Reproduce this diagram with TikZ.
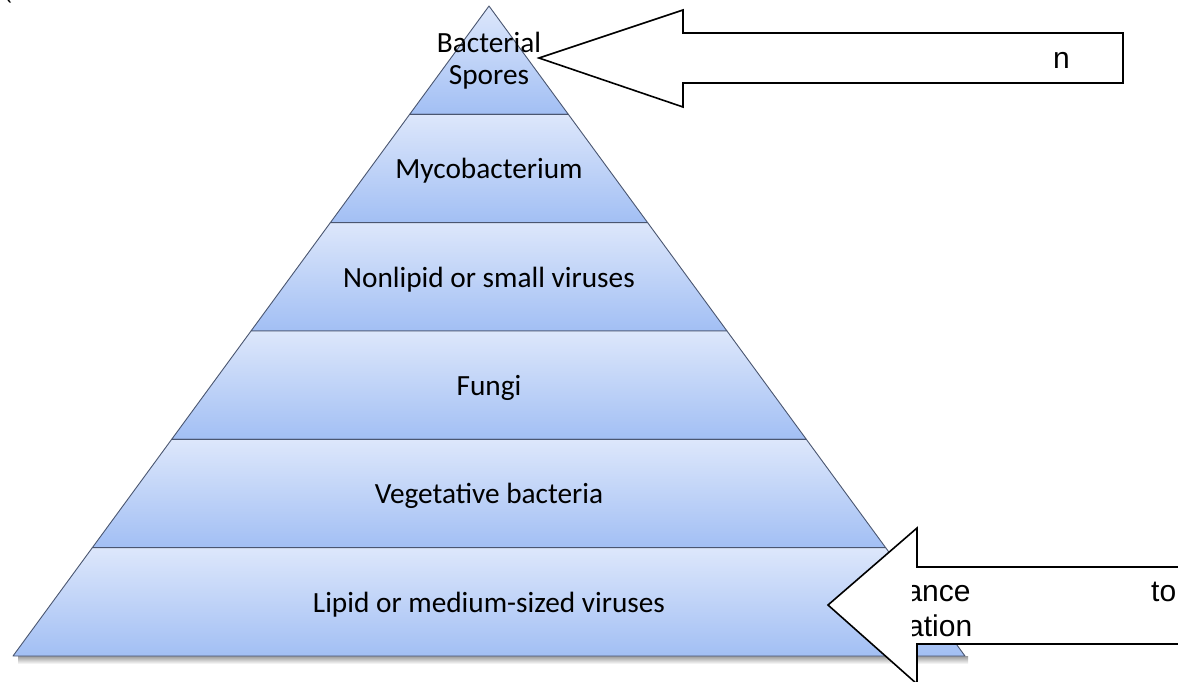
\documentclass[tikz,border=0pt]{standalone}
\usepackage{fontspec}
\setmainfont{Carlito}
\newfontfamily\arialf{Liberation Sans}
\definecolor{ltop}{HTML}{DDE7FB}
\definecolor{lbot}{HTML}{A2BFF4}
\definecolor{edgec}{HTML}{4A5670}
\begin{document}
\begin{tikzpicture}[x=1pt,y=-1pt,
  layer/.style={draw=edgec, line width=0.9pt, top color=ltop, bottom color=lbot, line join=round},
  lbl/.style={font=\fontsize{29.3}{34}\selectfont, text=black, inner sep=0pt, anchor=base},
  bigarrow/.style={draw=black, line width=1.6pt, fill=white, line join=miter},
  atext/.style={font=\arialf\fontsize{30}{35}\selectfont, text=black, inner sep=0pt}]
\useasboundingbox (0,0) rectangle (1178,681);
% fragment of text at top-left corner
\node[atext, anchor=base west, font=\arialf\fontsize{22}{26}\selectfont] (paren) at (4,-2) {(};
% shadow under base
\shade[top color=black!40, bottom color=white] (18,656) rectangle (968,664);
% pyramid layers
\path[layer] (489,6) -- (568.33,114.33) -- (409.67,114.33) -- cycle;
\path[layer] (409.67,114.33) -- (568.33,114.33) -- (647.67,222.67) -- (330.33,222.67) -- cycle;
\path[layer] (330.33,222.67) -- (647.67,222.67) -- (727,331) -- (251,331) -- cycle;
\path[layer] (251,331) -- (727,331) -- (806.33,439.33) -- (171.67,439.33) -- cycle;
\path[layer] (171.67,439.33) -- (806.33,439.33) -- (885.67,547.67) -- (92.33,547.67) -- cycle;
\path[layer] (92.33,547.67) -- (885.67,547.67) -- (965,656) -- (13,656) -- cycle;
% labels
\node[lbl] (bact) at (489,52) {Bacterial};
\node[lbl] (spores) at (489,84) {Spores};
\node[lbl] (myco) at (489,178) {Mycobacterium};
\node[lbl] (nonlipid) at (489,287) {Nonlipid or small viruses};
\node[lbl] (fungi) at (489,395) {Fungi};
\node[lbl] (veg) at (489,503) {Vegetative bacteria};
\node[lbl] (lipid) at (489,612) {Lipid or medium-sized viruses};
% top arrow
\path[bigarrow] (539,58) -- (683,10) -- (683,33) -- (1123,33) -- (1123,83) -- (683,83) -- (683,107) -- cycle;
\node[atext, anchor=base west] (ntext) at (1053,68) {n};
% bottom arrow
\path[bigarrow] (828,605) -- (917,528) -- (917,567) -- (1200,567) -- (1200,644) -- (917,644) -- (917,684) -- cycle;
\begin{scope}
\clip (912,560) rectangle (1178,650);
\node[atext, anchor=north west, text width=354pt, align=justify] (restext) at (822,580) {Resistance to\linebreak inactivation};
\end{scope}
\end{tikzpicture}
\end{document}
